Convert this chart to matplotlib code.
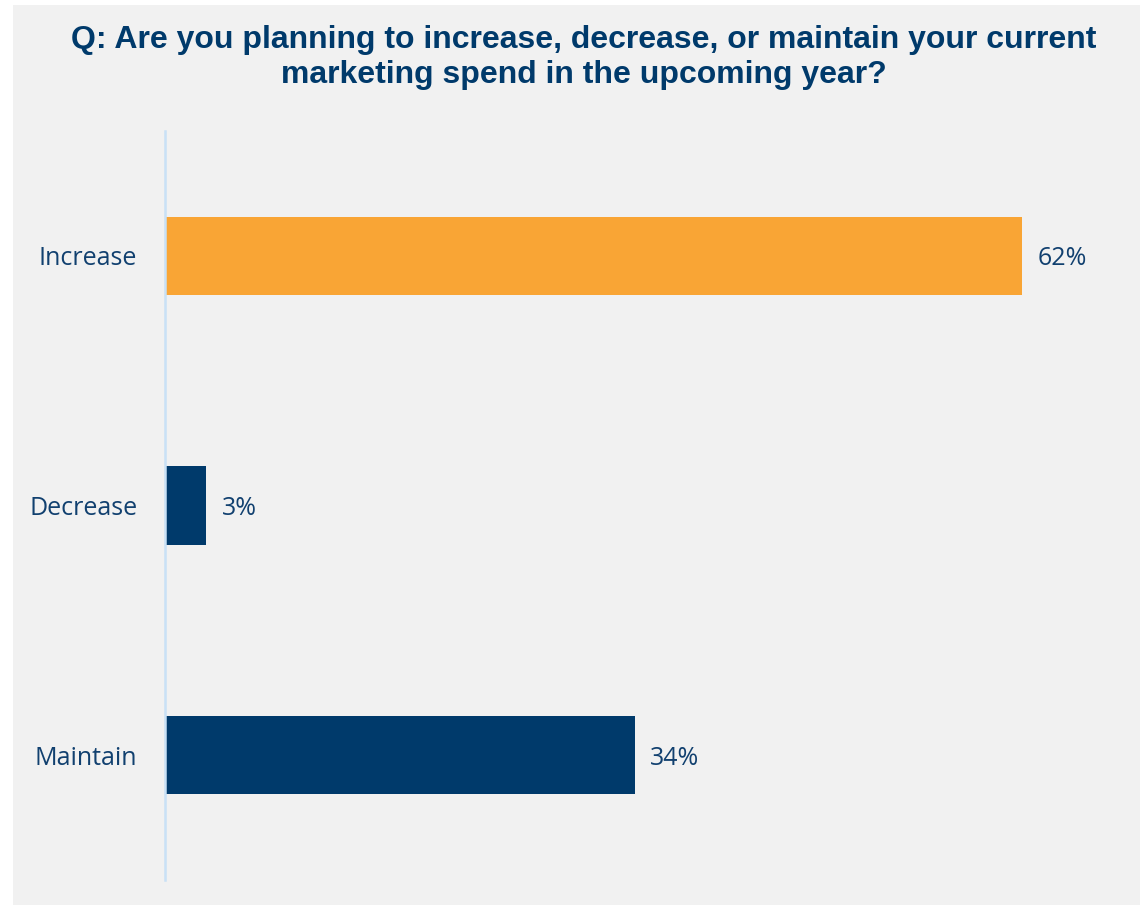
import matplotlib
matplotlib.use("Agg")
import matplotlib.pyplot as plt
from matplotlib.patches import Rectangle

# Survey responses
categories = ["Increase", "Decrease", "Maintain"]
shares = [62, 3, 34]
value_labels = ["62%", "3%", "34%"]
bar_colors = ["#F9A535", "#003A6B", "#003A6B"]

title = ("Q: Are you planning to increase, decrease, or maintain your current\n"
         "marketing spend in the upcoming year?")

W, H = 1140, 905
fig = plt.figure(figsize=(W / 100, H / 100), dpi=100, facecolor="white")

# light grey panel behind the chart
fig.patches.append(Rectangle((13 / W, 0), (W - 13) / W, (H - 5) / H,
                             transform=fig.transFigure, facecolor="#F1F1F1",
                             edgecolor="none", zorder=-5))

ax_left, ax_right = 165, 1132.6
ax_top, ax_bottom = 131, 880
ax = fig.add_axes([ax_left / W, (H - ax_bottom) / H,
                   (ax_right - ax_left) / W, (ax_bottom - ax_top) / H])
ax.set_facecolor("none")
ax.set_zorder(2)

pos = list(range(len(categories)))
ax.barh(pos, shares, height=0.313, color=bar_colors, zorder=2)
ax.set_xlim(0, 70)
ax.set_ylim(len(categories) - 0.5, -0.5)

ax.set_yticks(pos)
ax.set_yticklabels(categories, fontfamily="Open Sans", fontsize=18, color="#11406F")
ax.tick_params(axis="y", length=0, pad=20)
ax.set_xticks([])

for s in ["top", "right", "bottom"]:
    ax.spines[s].set_visible(False)
ax.spines["left"].set_color("#C9E1F6")
ax.spines["left"].set_linewidth(1.8)

text_kw = dict(fontfamily="Open Sans", fontsize=18, color="#11406F",
               va="center_baseline", ha="left")
for y, v, lab in zip(pos, shares, value_labels):
    ax.annotate(lab, xy=(v, y), xytext=(11, 0), textcoords="offset points", **text_kw)

fig.text(583.5 / W, 1 - 57.5 / H, title, ha="center", va="center",
         fontfamily="Liberation Sans", fontweight="bold", fontsize=23.0,
         color="#003A6B", linespacing=1.26)

fig.savefig("out.png", dpi=100, facecolor="white")
